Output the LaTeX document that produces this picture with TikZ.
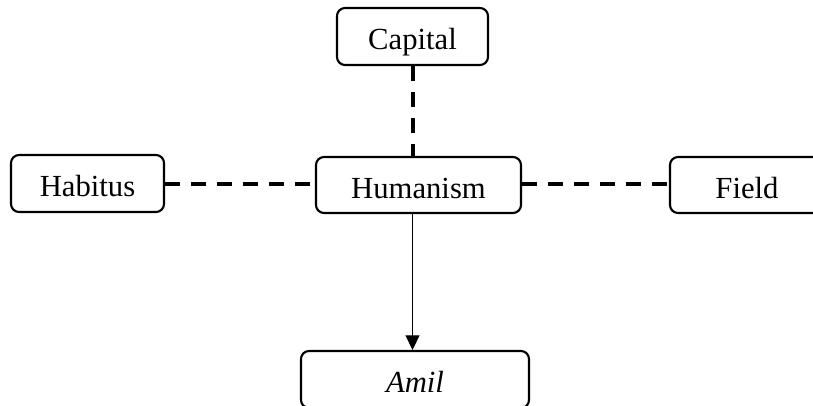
\documentclass[tikz,border=0pt]{standalone}
\usepackage{fontspec}
\setmainfont{Liberation Serif}
\usetikzlibrary{arrows.meta}
\begin{document}
\begin{tikzpicture}[x=0.75pt,y=-0.75pt,
  box/.style={draw, line width=1.6pt, rounded corners=6pt, inner sep=0pt,
    font=\fontsize{23}{27}\selectfont, text height=20pt, text depth=0pt},
  link/.style={line width=3pt, dash pattern=on 11pt off 8.5pt},
  arrowline/.style={line width=1pt, -{Triangle[length=11pt,width=10.5pt]}}]
\useasboundingbox (0,0) rectangle (813,406);
\clip (0,0) rectangle (813,406);
\node[box, minimum width=113.25pt, minimum height=42.75pt] (cap) at (412.5,36.5) {Capital};
\node[box, minimum width=114.75pt, minimum height=42.75pt] (hab) at (87.5,183.5) {Habitus};
\node[box, minimum width=153.75pt, minimum height=42pt] (hum) at (418.5,185) {Humanism};
\node[box, minimum width=115.5pt, minimum height=42pt] (fld) at (747,185) {Field};
\node[box, minimum width=171pt, minimum height=42.75pt] (ami) at (415,379.5) {\textit{Amil}};
\draw[link] (cap.south) -- (cap.south |- hum.north);
\draw[link] (hab.east) -- (hab.east -| hum.west);
\draw[link] (hum.east |- hab.east) -- (hab.east -| fld.west);
\draw[arrowline] (cap.south |- hum.south) -- (cap.south |- ami.north);
\end{tikzpicture}
\end{document}
